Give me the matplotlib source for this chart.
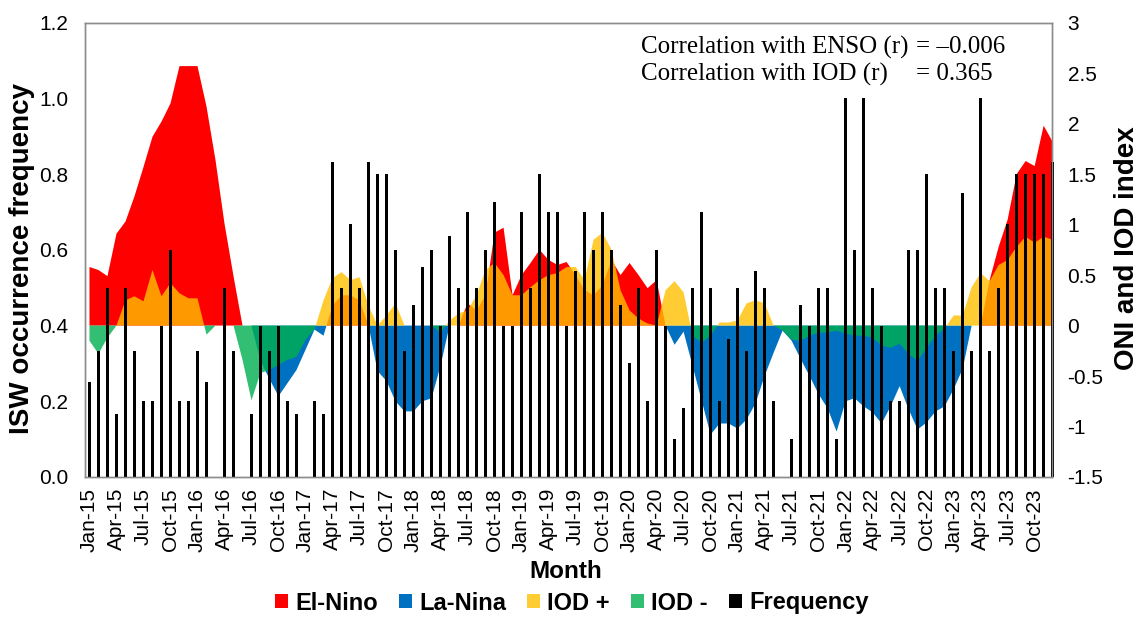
import numpy as np
import matplotlib
matplotlib.use("Agg")
import matplotlib.pyplot as plt
from matplotlib.patches import Patch

plt.rcParams['font.family'] = ['Liberation Sans', 'DejaVu Sans']

# ---------------- data ----------------
MONTH_NAMES = ['Jan', 'Feb', 'Mar', 'Apr', 'May', 'Jun',
               'Jul', 'Aug', 'Sep', 'Oct', 'Nov', 'Dec']
YEARS = list(range(15, 24))
months = [f"{m}-{y}" for y in YEARS for m in MONTH_NAMES]

# ISW occurrence frequency (left axis)
freq_2015 = [0.25, 0.333, 0.5, 0.167, 0.5, 0.333, 0.2, 0.2, 0.4, 0.6, 0.2, 0.2]
freq_2016 = [0.333, 0.25, 0, 0.5, 0.333, 0, 0.167, 0.4, 0.333, 0.4, 0.2, 0.167]
freq_2017 = [0, 0.2, 0.167, 0.833, 0.5, 0.667, 0.5, 0.833, 0.8, 0.8, 0.6, 0.333]
freq_2018 = [0.455, 0.556, 0.6, 0.4, 0.636, 0.5, 0.7, 0.5, 0.6, 0.727, 0.4, 0.4]
freq_2019 = [0.7, 0.5, 0.8, 0.7, 0.7, 0.4, 0.545, 0.7, 0.6, 0.7, 0.6, 0.455]
freq_2020 = [0.3, 0.5, 0.2, 0.6, 0.4, 0.1, 0.182, 0.5, 0.7, 0.5, 0.2, 0.364]
freq_2021 = [0.5, 0.333, 0.545, 0.5, 0.2, 0, 0.1, 0.455, 0.4, 0.5, 0.5, 0.1]
freq_2022 = [1.0, 0.6, 1.0, 0.5, 0.4, 0.2, 0.2, 0.6, 0.6, 0.8, 0.5, 0.5]
freq_2023 = [0.333, 0.75, 0.333, 1.0, 0.333, 0.5, 0.667, 0.8, 0.8, 0.8, 0.8, 0.833]
frequency = (freq_2015 + freq_2016 + freq_2017 + freq_2018 + freq_2019 +
             freq_2020 + freq_2021 + freq_2022 + freq_2023)

# ONI (right axis): positive -> El-Nino, negative -> La-Nina
oni_2015 = [0.58, 0.55, 0.49, 0.91, 1.03, 1.28, 1.57, 1.87, 2.02, 2.2, 2.57, 2.57]
oni_2016 = [2.57, 2.17, 1.64, 1.01, 0.49, 0.0, 0.0, -0.35, -0.53, -0.7, -0.57, -0.44]
oni_2017 = [-0.24, -0.04, -0.1, 0.2, 0.3, 0.3, 0.25, 0.0, -0.45, -0.55, -0.75, -0.85]
oni_2018 = [-0.85, -0.75, -0.72, -0.4, 0.0, 0.0, 0.22, 0.15, 0.3, 0.92, 0.97, 0.3]
oni_2019 = [0.5, 0.62, 0.75, 0.65, 0.6, 0.63, 0.5, 0.35, 0.3, 0.4, 0.65, 0.5]
oni_2020 = [0.62, 0.5, 0.37, 0.45, 0.0, -0.19, -0.06, -0.4, -0.74, -1.08, -0.97, -0.97]
oni_2021 = [-1.02, -0.93, -0.77, -0.5, -0.27, -0.05, -0.15, -0.33, -0.5, -0.68, -0.82, -1.05]
oni_2022 = [-0.75, -0.72, -0.8, -0.86, -0.97, -0.8, -0.6, -0.83, -1.03, -0.96, -0.85, -0.8]
oni_2023 = [-0.63, -0.43, 0.0, 0.0, 0.45, 0.78, 1.05, 1.5, 1.63, 1.58, 1.98, 1.82]
oni = (oni_2015 + oni_2016 + oni_2017 + oni_2018 + oni_2019 +
       oni_2020 + oni_2021 + oni_2022 + oni_2023)

# IOD / DMI (right axis): positive -> IOD +, negative -> IOD -
iod_2015 = [-0.15, -0.28, -0.12, 0.0, 0.25, 0.29, 0.24, 0.55, 0.29, 0.42, 0.32, 0.27]
iod_2016 = [0.27, -0.09, 0.0, 0.0, 0.0, -0.34, -0.74, -0.47, -0.44, -0.39, -0.34, -0.31]
iod_2017 = [-0.14, -0.04, 0.25, 0.47, 0.53, 0.45, 0.48, 0.2, 0.0, 0.1, 0.22, 0.0]
iod_2018 = [0.0, 0.0, 0.0, -0.07, 0.05, 0.12, 0.15, 0.3, 0.55, 0.62, 0.5, 0.3]
iod_2019 = [0.3, 0.38, 0.45, 0.5, 0.52, 0.58, 0.58, 0.45, 0.85, 0.92, 0.75, 0.35]
iod_2020 = [0.15, 0.07, 0.02, 0.0, 0.35, 0.44, 0.33, -0.1, -0.17, -0.1, 0.03, 0.03]
iod_2021 = [0.05, 0.22, 0.25, 0.22, 0.0, -0.05, -0.14, -0.15, -0.1, -0.07, -0.07, -0.05]
iod_2022 = [-0.08, -0.1, -0.1, -0.12, -0.2, -0.22, -0.18, -0.28, -0.35, -0.22, -0.1, -0.03]
iod_2023 = [0.1, 0.1, 0.38, 0.52, 0.44, 0.6, 0.65, 0.78, 0.88, 0.82, 0.88, 0.85]
iod = (iod_2015 + iod_2016 + iod_2017 + iod_2018 + iod_2019 +
       iod_2020 + iod_2021 + iod_2022 + iod_2023)

left_ticks = [0.0, 0.2, 0.4, 0.6, 0.8, 1.0, 1.2]
right_ticks = [-1.5, -1, -0.5, 0, 0.5, 1, 1.5, 2, 2.5, 3]
right_tick_labels = ['-1.5', '-1', '-0.5', '0', '0.5', '1', '1.5', '2', '2.5', '3']

# ---------------- styling ----------------
RED = '#FF0000'
BLUE = '#0070C0'
YELLOW = '#FFC000'
GREEN = '#00B050'
SPINE = '#8c8c8c'

W, H = 1143, 617
fig = plt.figure(figsize=(W / 100, H / 100), dpi=100)
ax1 = fig.add_axes([84.7 / W, 1 - 477 / H, (1052.3 - 84.7) / W, (477 - 22.7) / H])
ax2 = ax1.twinx()

x = np.arange(len(months))
oni_a = np.array(oni)
iod_a = np.array(iod)

# area series on the right axis
ax2.fill_between(x, 0, oni_a, where=oni_a >= 0, interpolate=True,
                 color=RED, lw=0)
ax2.fill_between(x, oni_a, 0, where=oni_a <= 0, interpolate=True,
                 color=BLUE, lw=0)
ax2.fill_between(x, 0, iod_a, where=iod_a >= 0, interpolate=True,
                 color=YELLOW, alpha=0.8, lw=0)
ax2.fill_between(x, iod_a, 0, where=iod_a <= 0, interpolate=True,
                 color=GREEN, alpha=0.8, lw=0)

# frequency bars on the left axis, drawn in front
ax1.set_zorder(ax2.get_zorder() + 1)
ax1.patch.set_visible(False)
ax1.bar(x, frequency, width=0.36, color='black', clip_on=False)

ax1.set_xlim(-0.53, 106.96)
ax1.set_ylim(0, 1.2)
ax2.set_ylim(-1.5, 3)

ax1.set_yticks(left_ticks)
ax1.set_yticklabels([f"{v:.1f}" for v in left_ticks], fontsize=15)
ax2.set_yticks(right_ticks)
ax2.set_yticklabels(right_tick_labels, fontsize=15)

ax1.set_xticks(x[::3])
ax1.set_xticklabels(months[::3], rotation=90, fontsize=15)

ax1.tick_params(axis='x', length=0, pad=8)
ax1.tick_params(axis='y', length=0, pad=12)
ax2.tick_params(axis='y', length=0, pad=11)

for ax in (ax1, ax2):
    for s in ax.spines.values():
        s.set_color(SPINE)
        s.set_linewidth(1.0)

# axis titles
fig.text(22 / W, 1 - 258 / H, 'ISW occurrence frequency', rotation=90,
         ha='center', va='center', fontsize=20, fontweight='bold')
fig.text(1127 / W, 1 - 248 / H, 'ONI and IOD index', rotation=90,
         ha='center', va='center', fontsize=20, fontweight='bold')
fig.text(566 / W, 1 - 571 / H, 'Month', ha='center', va='center',
         fontsize=17.5, fontweight='bold')

# correlation annotation
serif = ['Liberation Serif', 'DejaVu Serif']
t1 = fig.text(641 / W, 1 - 47 / H, 'Correlation with ENSO (r)', ha='left',
              va='center', fontsize=18, family=serif)
t2 = fig.text(641 / W, 1 - 74 / H, 'Correlation with IOD (r)', ha='left',
              va='center', fontsize=18, family=serif)
fig.canvas.draw()
r = fig.canvas.get_renderer()
x_eq = (t1.get_window_extent(r).x1 + 7) / W
fig.text(x_eq, 1 - 47 / H, '= \u20130.006', ha='left',
         va='center', fontsize=18, family=serif)
fig.text(x_eq, 1 - 74 / H, '= 0.365', ha='left',
         va='center', fontsize=18, family=serif)

# legend
handles = [Patch(facecolor=RED, edgecolor='none'),
           Patch(facecolor=BLUE, edgecolor='none'),
           Patch(facecolor=YELLOW, alpha=0.8, edgecolor='none'),
           Patch(facecolor=GREEN, alpha=0.8, edgecolor='none'),
           Patch(facecolor='black', edgecolor='none')]
labels = ['El-Nino', 'La-Nina', 'IOD +', 'IOD -', 'Frequency']
fig.legend(handles, labels, loc='center', bbox_to_anchor=(572 / W, 1 - 603 / H),
           ncol=5, frameon=False, handlelength=0.55, handleheight=0.55,
           handletextpad=0.3, columnspacing=0.9,
           prop={'weight': 'bold', 'size': 17})

fig.savefig('out.png', dpi=100)
